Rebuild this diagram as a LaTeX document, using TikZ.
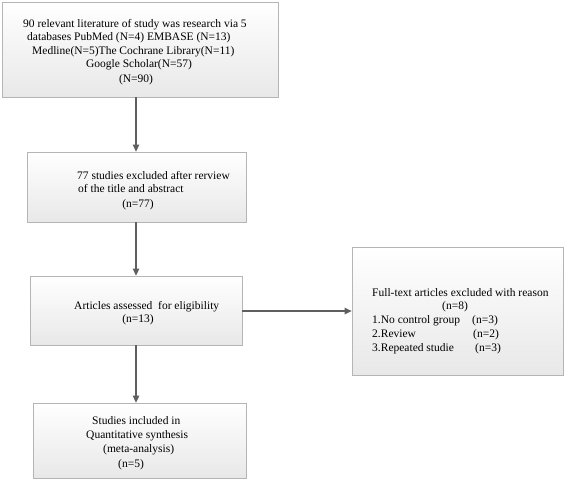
\documentclass[tikz,border=0pt]{standalone}
\usepackage{fontspec}
\setmainfont{Liberation Serif}
\usetikzlibrary{arrows.meta,shadows}
\definecolor{boxline}{HTML}{B5B5B5}
\definecolor{arrowc}{HTML}{5F5F5F}
\begin{document}
\begin{tikzpicture}[x=1pt,y=1pt,
  box/.style={draw=boxline,line width=0.8pt,rectangle,top color=white,bottom color=black!9,inner sep=0,
    drop shadow={opacity=0.25,shadow xshift=1pt,shadow yshift=-1pt}},
  txt/.style={inner sep=0,font=\fontsize{11.5}{13}\selectfont},
  lt/.style={txt,anchor=base west},
  ct/.style={txt,anchor=base},
  arr/.style={draw=arrowc,line width=1.3pt,-{Triangle[length=7pt,width=6.5pt]}}]
\useasboundingbox (0,0) rectangle (567,-482);
% boxes
\node[box,minimum width=276,minimum height=95] (b1) at (140,-49.5) {};
\node[box,minimum width=219,minimum height=70] (b2) at (136.5,-187) {};
\node[box,minimum width=212,minimum height=69] (b3) at (136,-310.5) {};
\node[box,minimum width=213,minimum height=75] (b4) at (139.5,-440.5) {};
\node[box,minimum width=211,minimum height=128] (b5) at (457.5,-311) {};
% box 1 text
\node[lt] (t11) at (23,-27) {90 relevant literature of study was research via 5};
\node[lt] (t12) at (27,-40) {databases PubMed (N=4) EMBASE (N=13)};
\node[lt] (t13) at (32,-54) {Medline(N=5)The Cochrane Library(N=11)};
\node[ct] (t14) at (139,-67) {Google Scholar(N=57)};
\node[ct] (t15) at (136,-82) {(N=90)};
% box 2 text
\node[lt] (t21) at (77,-179) {77 studies excluded after rerview};
\node[lt] (t22) at (78,-192) {of the title and abstract};
\node[ct] (t23) at (138,-207) {(n=77)};
% box 3 text
\node[lt] (t31) at (74,-309) {Articles assessed\ \ for eligibility};
\node[ct] (t32) at (138,-322) {(n=13)};
% box 4 text
\node[lt] (t41) at (92,-424) {Studies included in};
\node[lt] (t42) at (86,-438) {Quantitative synthesis};
\node[lt] (t43) at (103,-452) {(meta-analysis)};
\node[lt] (t44) at (118,-467) {(n=5)};
% box 5 text
\node[lt] (t51) at (372,-296) {Full-text articles excluded with reason};
\node[lt] (t52) at (442,-309) {(n=8)};
\node[lt] (t53) at (372,-323) {1.No control group};
\node[lt] (t53n) at (472,-323) {(n=3)};
\node[lt] (t54) at (372,-337) {2.Review};
\node[lt] (t54n) at (473,-337) {(n=2)};
\node[lt] (t55) at (372,-351) {3.Repeated studie};
\node[lt] (t55n) at (475,-351) {(n=3)};
% connectors
\coordinate (ax) at (136,0);
\coordinate (hy) at (0,-311);
\draw[arr] (b1.south -| ax) -- (b2.north -| ax);
\draw[arr] (b2.south -| ax) -- (b3.north -| ax);
\draw[arr] (b3.south -| ax) -- (b4.north -| ax);
\draw[arr] (b3.east |- hy) -- (b5.west |- hy);
\end{tikzpicture}
\end{document}
